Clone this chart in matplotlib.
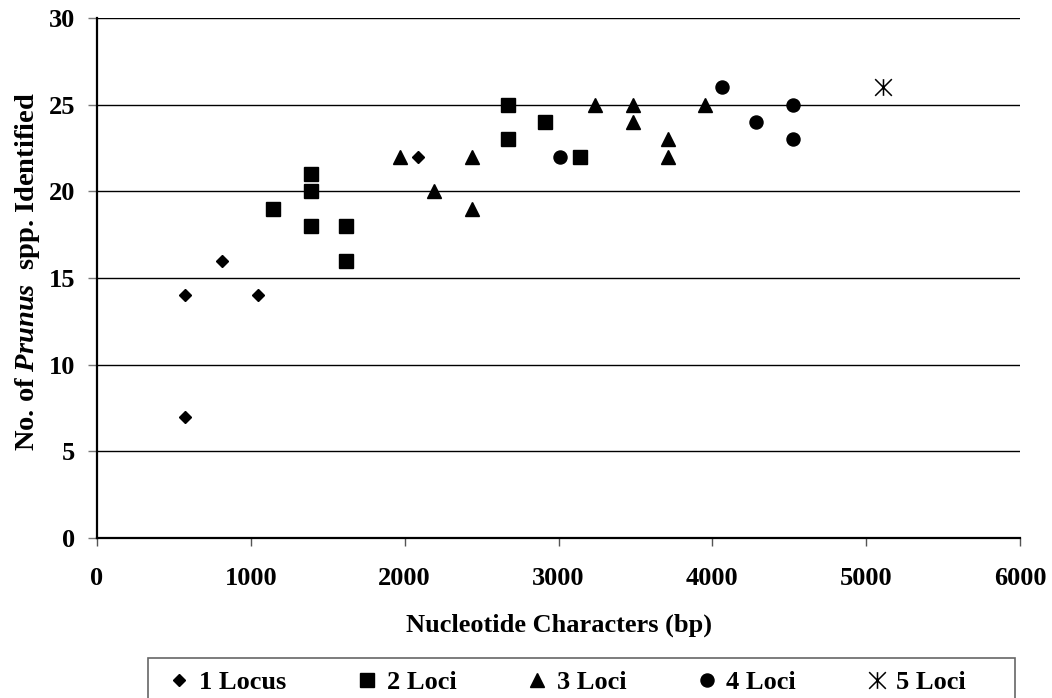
import matplotlib.pyplot as plt
from matplotlib.path import Path
from matplotlib.patches import Rectangle

plt.rcParams['font.family'] = ['Liberation Serif', 'DejaVu Serif']
plt.rcParams['font.weight'] = 'bold'
plt.rcParams['mathtext.fontset'] = 'custom'
plt.rcParams['mathtext.it'] = 'Liberation Serif:italic:bold'
plt.rcParams['mathtext.rm'] = 'Liberation Serif:bold'

locus1_x = [572, 572, 813, 1047, 2087]
locus1_y = [14, 7, 16, 14, 22]
loci2_x = [1144, 1391, 1391, 1391, 1619, 1619, 2672, 2672, 2913, 3140]
loci2_y = [19, 21, 20, 18, 18, 16, 25, 23, 24, 22]
loci3_x = [1970, 2191, 2438, 2438, 3238, 3485, 3485, 3713, 3713, 3953]
loci3_y = [22, 20, 22, 19, 25, 25, 24, 23, 22, 25]
loci4_x = [3010, 4064, 4285, 4525, 4525]
loci4_y = [22, 26, 24, 25, 23]
loci5_x = [5111]
loci5_y = [26]

FS = 19

# excel style star: an X with a vertical bar through it
star = Path([(-1, -1), (1, 1), (-1, 1), (1, -1), (0, -1), (0, 1)],
            [Path.MOVETO, Path.LINETO, Path.MOVETO, Path.LINETO, Path.MOVETO, Path.LINETO])

fig = plt.figure(figsize=(10.52, 6.98), dpi=100)
ax = fig.add_axes([97/1052, 1 - 538/698, 923/1052, 520/698])

ax.plot(locus1_x, locus1_y, 'kD', ms=6.4, ls='none', label='1 Locus', zorder=3)
ax.plot(loci2_x, loci2_y, 'ks', ms=9.5, ls='none', label='2 Loci', zorder=3)
ax.plot(loci3_x, loci3_y, 'k^', ms=9.6, ls='none', label='3 Loci', zorder=3)
ax.plot(loci4_x, loci4_y, 'ko', ms=9.4, ls='none', label='4 Loci', zorder=3)
ax.plot(loci5_x, loci5_y, color='k', marker=star, ms=12, mew=1.1, ls='none',
        label='5 Loci', zorder=3)

ax.set_xlim(0, 6000)
ax.set_ylim(0, 30)
ax.set_xticks(range(0, 6001, 1000))
ax.set_yticks(range(0, 31, 5))
ax.yaxis.grid(True, color='black', lw=1)
ax.set_axisbelow(True)
for s in ['top', 'right']:
    ax.spines[s].set_visible(False)
ax.spines['left'].set_linewidth(1.6)
ax.spines['bottom'].set_linewidth(1.6)
ax.tick_params(axis='y', length=6.5, width=1, color='#777777', labelsize=FS, pad=9)
ax.tick_params(axis='x', length=6, width=1, color='#555555', labelsize=FS, pad=15)
for t in ax.get_xticklabels() + ax.get_yticklabels():
    t.set_fontweight('bold')

ax.set_xlabel('Nucleotide Characters (bp)', fontsize=FS, fontweight='bold')
ax.set_ylabel(r'No. of $\mathit{Prunus}$  spp. Identified', fontsize=20.5, fontweight='bold')
ax.xaxis.set_label_coords(0.5, -0.145)
ax.yaxis.set_label_coords(-0.06, 0.513)

# legend box drawn on its own, legend row placed inside it
fig.patches.append(Rectangle((148/1052, -0.02), 867/1052, 0.02 + 1 - 658/698,
                             transform=fig.transFigure, fill=False,
                             edgecolor='#666666', lw=1.2))
leg = fig.legend(loc='upper left', bbox_to_anchor=(166/1052, 1 - 671/698), ncol=5,
                 frameon=False, handletextpad=0.25, columnspacing=2.55,
                 handlelength=1.0, borderpad=0, borderaxespad=0,
                 prop={'weight': 'bold', 'size': FS})

fig.savefig('out.png', dpi=100)
